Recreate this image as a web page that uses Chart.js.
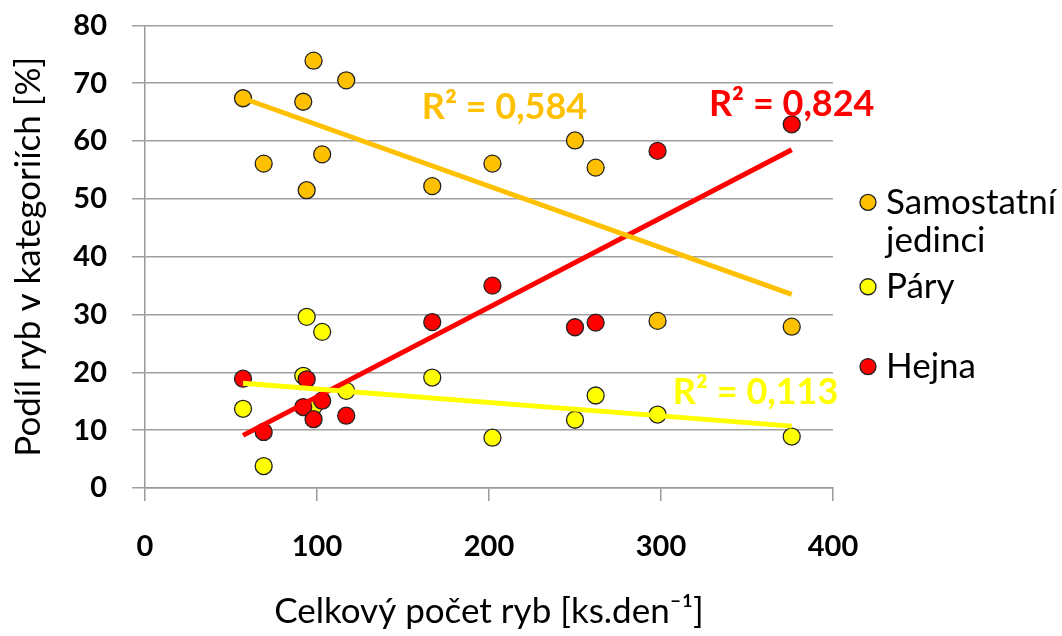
<!DOCTYPE html>
<html>
<head>
<meta charset="utf-8">
<script src="https://cdn.jsdelivr.net/npm/chart.js@4/dist/chart.umd.min.js"></script>
<style>
    html, body { margin: 0; padding: 0; background: #fff; }
    #wrap { width: 1062px; height: 636px; overflow: hidden; }
    /* the y tick padding pushes the plot top down by ~17px, so the canvas is a bit taller and shifted up */
    #fishChart { display: block; margin-top: -17px; }
</style>
</head>
<body>
<div id="wrap"><canvas id="fishChart" width="1062" height="653"></canvas></div>
<script>
// Data
const fishTotal = [57, 69, 92, 94, 98, 103, 117, 167, 202, 250, 262, 298, 376];
const singles = [67.4, 56.1, 66.8, 51.5, 73.9, 57.7, 70.5, 52.2, 56.1, 60.1, 55.4, 28.9, 27.9];
const pairs = [13.7, 3.8, 19.4, 29.6, 14.1, 27.0, 16.8, 19.1, 8.7, 11.8, 16.0, 12.7, 8.9];
const schools = [18.9, 9.7, 14.0, 18.8, 11.9, 15.1, 12.5, 28.7, 35.0, 27.8, 28.6, 58.3, 62.9];

// Trend line end points (x from first to last sample)
const trendX = [57, 376];
const singlesTrend = [67.4, 33.5];
const pairsTrend = [18.1, 10.7];
const schoolsTrend = [9.1, 58.5];

const seriesNames = ['Samostatní\njedinci', 'Páry', 'Hejna'];
const r2Labels = ['R² = 0,584', 'R² = 0,113', 'R² = 0,824'];
const r2Pos = [[209, 65.8], [355, 16.5], [376, 66.3]];

const colors = ['#FFC000', '#FFFF00', '#FF0000'];

function toPoints(xs, ys) {
    return xs.map((x, i) => ({ x: x, y: ys[i] }));
}

const pointSets = [singles, pairs, schools];
const trendSets = [singlesTrend, pairsTrend, schoolsTrend];

const datasets = [];
pointSets.forEach((vals, i) => {
    datasets.push({
        type: 'scatter',
        label: seriesNames[i],
        data: toPoints(fishTotal, vals),
        backgroundColor: colors[i],
        borderColor: '#222',
        borderWidth: 1.3,
        pointRadius: 8.5,
        order: 10 - i
    });
});
trendSets.forEach((vals, i) => {
    datasets.push({
        type: 'line',
        label: 'trend' + i,
        data: toPoints(trendX, vals),
        borderColor: colors[i],
        borderWidth: 5,
        pointRadius: 0,
        fill: false,
        order: 1
    });
});

// R² texts and the legend on the right
const extrasPlugin = {
    id: 'extras',
    afterDraw(chart) {
        const ctx = chart.ctx;
        const xs = chart.scales.x, ys = chart.scales.y;
        ctx.save();
        ctx.font = 'bold 36px Lato';
        ctx.textAlign = 'center';
        ctx.textBaseline = 'middle';
        r2Labels.forEach((t, i) => {
            ctx.fillStyle = colors[i];
            ctx.fillText(t, xs.getPixelForValue(r2Pos[i][0]), ys.getPixelForValue(r2Pos[i][1]));
        });

        // legend, lined up with the plot
        const legendVals = [49.4, 34.8, 21.0];
        ctx.font = '35px Lato';
        ctx.textAlign = 'left';
        ctx.textBaseline = 'middle';
        seriesNames.forEach((name, i) => {
            const ly = ys.getPixelForValue(legendVals[i]);
            ctx.beginPath();
            ctx.arc(868, ly, 8, 0, Math.PI * 2);
            ctx.fillStyle = colors[i];
            ctx.fill();
            ctx.lineWidth = 1.3;
            ctx.strokeStyle = '#222';
            ctx.stroke();
            ctx.fillStyle = '#000';
            name.split('\n').forEach((line, j) => {
                ctx.fillText(line, 886, ly + j * 38);
            });
        });
        ctx.restore();
    }
};

new Chart(document.getElementById('fishChart'), {
    type: 'scatter',
    data: { datasets: datasets },
    options: {
        responsive: false,
        animation: false,
        layout: { padding: { top: 0, right: 229, bottom: 0, left: 0 } },
        plugins: {
            legend: { display: false },
            tooltip: { enabled: false }
        },
        scales: {
            x: {
                type: 'linear',
                min: 0,
                max: 400,
                afterFit: s => { s.height = 148; },
                ticks: {
                    stepSize: 100,
                    padding: 28,
                    color: '#000',
                    font: { family: 'Lato', size: 29, weight: 'bold' }
                },
                grid: { drawOnChartArea: false, tickLength: 13, color: '#999', lineWidth: 1.5 },
                border: { color: '#999', width: 1.5 },
                title: {
                    display: true,
                    text: 'Celkový počet ryb [ks.den⁻¹]',
                    color: '#000',
                    font: { family: 'Lato', size: 35 },
                    padding: { top: 0, bottom: 3 }
                }
            },
            y: {
                min: 0,
                max: 80,
                afterFit: s => { s.width = 145; },
                ticks: {
                    stepSize: 10,
                    padding: 25,
                    color: '#000',
                    font: { family: 'Lato', size: 29, weight: 'bold' }
                },
                grid: { tickLength: 13, color: '#a0a0a0', lineWidth: 1.5 },
                border: { color: '#999', width: 1.5 },
                title: {
                    display: true,
                    text: 'Podíl ryb v kategoriích [%]',
                    color: '#000',
                    font: { family: 'Lato', size: 35 },
                    padding: { top: 8, bottom: 0 }
                }
            }
        }
    },
    plugins: [extrasPlugin]
});
</script>
</body>
</html>
